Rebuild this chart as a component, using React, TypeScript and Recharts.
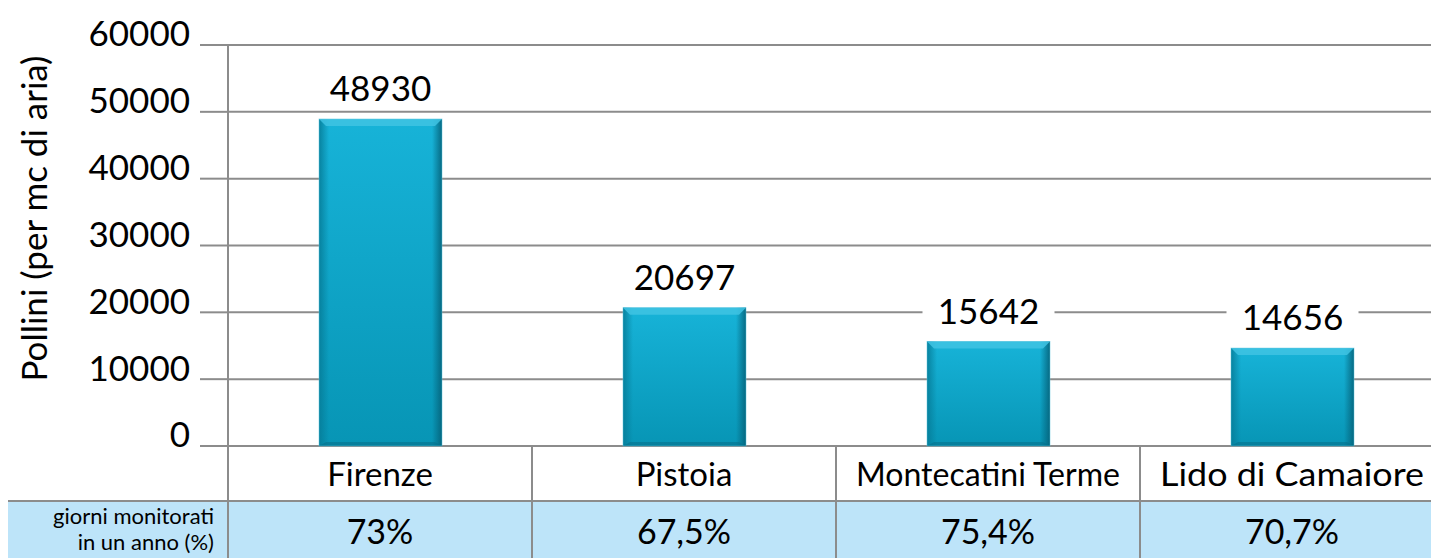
import { BarChart, Bar, XAxis, YAxis, CartesianGrid, LabelList } from 'recharts'

const categories = ['Firenze', 'Pistoia', 'Montecatini Terme', 'Lido di Camaiore']
const pollini = [48930, 20697, 15642, 14656]
const giorniMonitorati = ['73%', '67,5%', '75,4%', '70,7%']
const yTicks = [0, 10000, 20000, 30000, 40000, 50000, 60000]
const rowHeader = ['giorni monitorati', 'in un anno (%)']
const yLabel = 'Pollini (per mc di aria)'

const data = categories.map((name, i) => ({ name, value: pollini[i], pct: giorniMonitorati[i] }))

const FONT = 'Lato, "Open Sans", sans-serif'
const GRID = '#8c8c8c'
const ROW_BLUE = '#bde4f9'
const CHART_W = 1444
const CHART_H = 558
const Y_AXIS_W = 228
const X_AXIS_H = 112
const COL_W = (CHART_W - Y_AXIS_W) / categories.length
const ROW1_H = 55

const YTick = ({ x, y, payload }: any) => (
  <text x={x} y={y - 11} dy="0.355em" textAnchor="end" fontSize={35} fontFamily={FONT} fill="#000">
    {payload.value}
  </text>
)

const CategoryTick = ({ x, y, payload, index }: any) => {
  const left = x - COL_W / 2
  const pct = giorniMonitorati[index]
  const long = String(payload.value).length > 15
  return (
    <g>
      <rect x={left + 1} y={y + ROW1_H} width={COL_W - 2} height={X_AXIS_H - ROW1_H} fill={ROW_BLUE} />
      {index === 0 && (
        <g>
          <rect x={8} y={y + ROW1_H} width={left - 9} height={X_AXIS_H - ROW1_H} fill={ROW_BLUE} />
          <line x1={8} x2={left} y1={y + ROW1_H} y2={y + ROW1_H} stroke={GRID} strokeWidth={2} />
          <line x1={left} x2={left} y1={y} y2={y + X_AXIS_H} stroke={GRID} strokeWidth={2} />
          {/* header cell of the percentage row */}
          <text x={left - 14} y={y + 78} textAnchor="end" fontSize={22} fontFamily={FONT} fill="#000">
            {rowHeader[0]}
          </text>
          <text x={left - 14} y={y + 104} textAnchor="end" fontSize={22} fontFamily={FONT} fill="#000">
            {rowHeader[1]}
          </text>
        </g>
      )}
      <line x1={left} x2={left + COL_W} y1={y + ROW1_H} y2={y + ROW1_H} stroke={GRID} strokeWidth={2} />
      <line x1={left + COL_W} x2={left + COL_W} y1={y} y2={y + X_AXIS_H} stroke={GRID} strokeWidth={2} />
      <text
        x={x}
        y={y + 28}
        dy="0.355em"
        textAnchor="middle"
        fontSize={33}
        fontFamily={FONT}
        fill="#000"
        {...(long ? { textLength: 264, lengthAdjust: 'spacingAndGlyphs' } : {})}
      >
        {payload.value}
      </text>
      <text x={x} y={y + 86} dy="0.355em" textAnchor="middle" fontSize={34} fontFamily={FONT} fill="#000">
        {pct}
      </text>
    </g>
  )
}

const BevelBar = ({ x, y, width, height }: any) => {
  if (!height || height <= 0) return null
  const b = 7
  return (
    <g>
      <rect x={x} y={y} width={width} height={height} fill="url(#barFill)" />
      <rect x={x} y={y} width={b + 3} height={height} fill="url(#edgeLeft)" />
      <rect x={x + width - b - 3} y={y} width={b + 3} height={height} fill="url(#edgeRight)" />
      <polygon
        points={`${x},${y} ${x + width},${y} ${x + width - b},${y + b} ${x + b},${y + b}`}
        fill="#3fc3e3"
        opacity={0.85}
      />
      <polygon
        points={`${x},${y + height} ${x + width},${y + height} ${x + width - b},${y + height - 4} ${x + b},${y + height - 4}`}
        fill="#06718c"
        opacity={0.6}
      />
      <rect x={x} y={y} width={width} height={height} fill="none" stroke="#5fc6df" strokeWidth={0.8} opacity={0.6} />
    </g>
  )
}

const ValueLabel = ({ x, y, width, value }: any) => {
  const cx = x + width / 2
  const cy = y - 30
  return (
    <g>
      <rect x={cx - 66} y={cy - 18} width={132} height={36} fill="#fff" />
      <text x={cx} y={cy} dy="0.355em" textAnchor="middle" fontSize={35} fontFamily={FONT} fill="#000">
        {value}
      </text>
    </g>
  )
}

const YLabel = ({ viewBox }: any) => {
  const cx = 35
  const cy = viewBox.y + viewBox.height / 2 - 27
  return (
    <text
      x={cx}
      y={cy}
      dy="0.355em"
      textAnchor="middle"
      fontSize={35}
      fontFamily={FONT}
      fill="#000"
      transform={`rotate(-90 ${cx} ${cy})`}
    >
      {yLabel}
    </text>
  )
}

export default function App() {
  return (
    <div style={{ width: 1431, height: CHART_H, overflow: 'hidden', background: '#fff' }}>
      <style>{'body{margin:0}'}</style>
      <BarChart
        width={CHART_W}
        height={CHART_H}
        data={data}
        margin={{ top: 45, right: 0, bottom: 0, left: 0 }}
      >
        <defs>
          <linearGradient id="barFill" x1="0" y1="0" x2="0" y2="1">
            <stop offset="0%" stopColor="#17b3d8" />
            <stop offset="100%" stopColor="#0795b5" />
          </linearGradient>
          <linearGradient id="edgeLeft" x1="0" y1="0" x2="1" y2="0">
            <stop offset="0%" stopColor="#067d99" stopOpacity={0.9} />
            <stop offset="100%" stopColor="#067d99" stopOpacity={0} />
          </linearGradient>
          <linearGradient id="edgeRight" x1="0" y1="0" x2="1" y2="0">
            <stop offset="0%" stopColor="#05627a" stopOpacity={0} />
            <stop offset="100%" stopColor="#05627a" stopOpacity={0.9} />
          </linearGradient>
        </defs>
        <CartesianGrid vertical={false} stroke={GRID} strokeWidth={2} />
        <XAxis
          dataKey="name"
          height={X_AXIS_H}
          axisLine={false}
          tickLine={false}
          tickSize={0}
          tickMargin={0}
          interval={0}
          tick={<CategoryTick />}
        />
        <YAxis
          width={Y_AXIS_W}
          domain={[0, 60000]}
          ticks={yTicks}
          interval={0}
          tickSize={28}
          tickMargin={10}
          tickLine={{ stroke: GRID, strokeWidth: 2 }}
          axisLine={{ stroke: GRID, strokeWidth: 2 }}
          tick={<YTick />}
          label={<YLabel />}
        />
        <Bar dataKey="value" barSize={123} shape={<BevelBar />} isAnimationActive={false}>
          <LabelList dataKey="value" content={<ValueLabel />} />
        </Bar>
      </BarChart>
    </div>
  )
}
